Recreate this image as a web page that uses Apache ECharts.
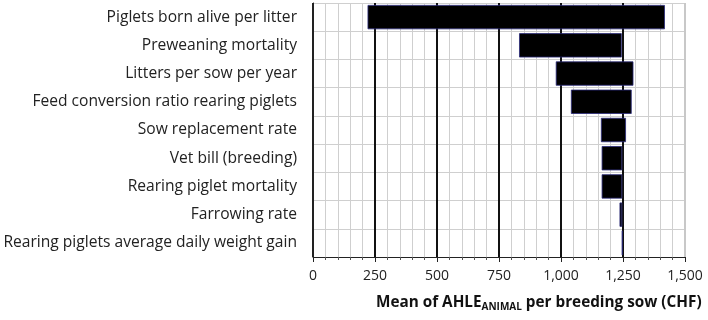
<!DOCTYPE html>
<html lang="en">
<head>
    <meta charset="UTF-8">
    <title>AHLE tornado</title>
    <script src="https://cdn.jsdelivr.net/npm/echarts@6/dist/echarts.min.js"></script>
    <style>
        html, body { margin: 0; padding: 0; background: #fff; }
        #chart1 { width: 708px; height: 320px; }
    </style>
</head>
<body>
<div id="chart1"></div>
<script type="text/javascript">
    // parameters, top to bottom
    var categories = [
        'Piglets born alive per litter',
        'Preweaning mortality',
        'Litters per sow per year',
        'Feed conversion ratio rearing piglets',
        'Sow replacement rate',
        'Vet bill (breeding)',
        'Rearing piglet mortality',
        'Farrowing rate',
        'Rearing piglets average daily weight gain'
    ];
    // left and right end of each bar (CHF)
    var lowValues = [220, 831, 979, 1040, 1161, 1164, 1164, 1236, 1247];
    var highValues = [1419, 1245, 1292, 1285, 1262, 1247, 1247, 1247, 1247];
    var xTicks = [0, 250, 500, 750, 1000, 1250, 1500];

    var spans = lowValues.map(function (v, i) { return highValues[i] - v; });
    var fontName = 'Open Sans';

    var myChart1 = echarts.init(document.getElementById('chart1'));
    myChart1.setOption({
        animation: false,
        textStyle: { fontFamily: fontName },
        title: {
            left: 371,
            top: 289,
            text: '{a|Mean of AHLE}{s|ANIMAL}{a| per breeding sow (CHF)}',
            textStyle: {
                rich: {
                    a: { fontFamily: fontName, fontWeight: 'bold', fontSize: 15.3, color: '#111' },
                    s: { fontFamily: fontName, fontWeight: 'bold', fontSize: 10, color: '#111', padding: [8, 0, 0, 0] }
                }
            }
        },
        grid: { left: 313, right: 23, top: 3, bottom: 63 },
        xAxis: {
            type: 'value',
            min: xTicks[0],
            max: xTicks[xTicks.length - 1],
            interval: 250,
            axisLine: { show: true, lineStyle: { color: '#222', width: 1 } },
            axisTick: { show: true, length: 5, lineStyle: { color: '#222' } },
            minorTick: { show: true, splitNumber: 5, length: 3, lineStyle: { color: '#555' } },
            axisLabel: {
                color: '#222', fontSize: 14, margin: 12,
                formatter: function (v) { return v.toLocaleString('en-US'); }
            },
            splitLine: {
                show: true,
                lineStyle: { color: ['#222', '#111', '#111', '#111', '#111', '#111', '#c8c8c8'], width: 2 }
            },
            minorSplitLine: { show: true, lineStyle: { color: '#cfcfcf', width: 1 } }
        },
        yAxis: {
            type: 'category',
            inverse: true,
            data: categories,
            axisLine: { show: true, lineStyle: { color: '#222' } },
            axisTick: { show: false },
            axisLabel: { color: '#222', fontSize: 15.6, margin: 16 },
            splitLine: { show: true, lineStyle: { color: '#cfcfcf', width: 1 } }
        },
        series: [
            {
                name: 'base',
                type: 'bar',
                stack: 'range',
                silent: true,
                itemStyle: { color: 'transparent' },
                data: lowValues
            },
            {
                name: 'range',
                type: 'bar',
                stack: 'range',
                barCategoryGap: '14%',
                itemStyle: { color: '#000', borderColor: '#2a2a7a', borderWidth: 0.8 },
                data: spans
            }
        ]
    });
</script>
</body>
</html>
